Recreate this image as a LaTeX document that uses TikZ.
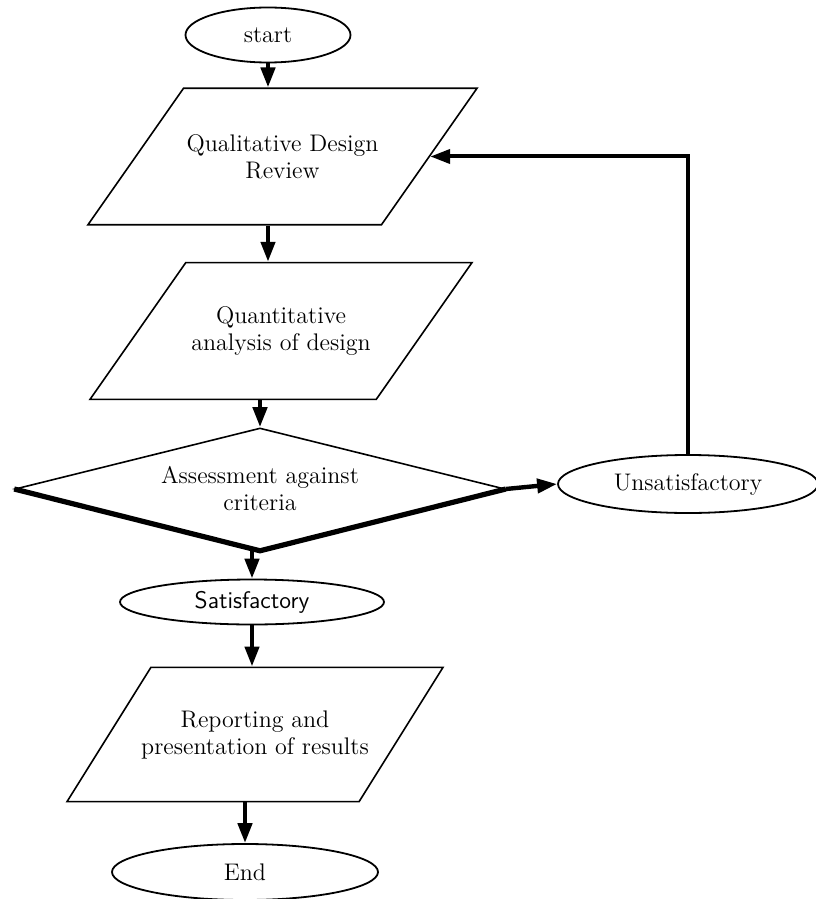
\documentclass[tikz,border=0pt]{standalone}
\usepackage{tikz}
\usetikzlibrary{shapes.geometric,arrows.meta}

\begin{document}
\begin{tikzpicture}[x=0.5pt,y=-0.5pt,
    font=\fontsize{12}{13.5}\selectfont,
    term/.style={draw,line width=0.9pt,ellipse,inner sep=0pt},
    io/.style={draw,line width=0.8pt,trapezium,trapezium stretches body=true,
        trapezium left angle=55,trapezium right angle=125,align=center,
        inner xsep=0pt,inner ysep=#1},
    io/.default=23pt,
    decision/.style={draw,line width=0.8pt,diamond,aspect=4,align=center,inner sep=0pt},
    arr/.style={line width=2.2pt,-{Triangle[length=10pt,width=7pt]}}]
    \useasboundingbox (0,0) rectangle (815,899);

    % boxes
    \node[term,minimum width=82.5pt,minimum height=27.5pt] (start) at (268,35) {start};
    \node[io,minimum width=194.5pt] (qual) at (282.5,156.5)
        {Qualitative Design\\Review};
    \node[io=22pt,minimum width=191pt] (quant) at (281,331)
        {Quantitative\\analysis of design};
    \node[decision,minimum width=245pt,minimum height=61pt] (crit) at (260,489)
        {Assessment against\\criteria};
    \node[term,minimum width=130pt,minimum height=29pt] (unsat) at (688,484) {Unsatisfactory};
    \node[term,font=\fontsize{12}{13.5}\sffamily\selectfont,
        minimum width=132pt,minimum height=22.5pt] (sat) at (252,602) {Satisfactory};
    \node[io=21.5pt,inner xsep=-5pt,trapezium left angle=58,trapezium right angle=122,
        minimum width=188pt] (report) at (255,734.5)
        {Reporting and\\presentation of results};
    \node[term,minimum width=133pt,minimum height=28pt] (finish) at (245,872) {End};

    % heavy lower edges of the decision
    \draw[line width=2.6pt,line join=round] (crit.west) -- (crit.south) -- (crit.east);

    % flow
    \draw[arr] (start.south) -- (start.south |- qual.north);
    \draw[arr] (qual.south -| start) -- (start |- quant.north);
    \draw[arr] (quant.south -| crit) -- (crit.north);
    \draw[arr] (crit.south -| sat) -- (sat.north);
    \draw[arr] (sat.south) -- (sat.south |- report.north);
    \draw[arr] (report.south -| finish) -- (finish.north);
    \draw[arr] (crit.east) -- (unsat.west);
    \draw[arr,line width=2pt] (unsat.north) |- (qual.east);
\end{tikzpicture}
\end{document}
